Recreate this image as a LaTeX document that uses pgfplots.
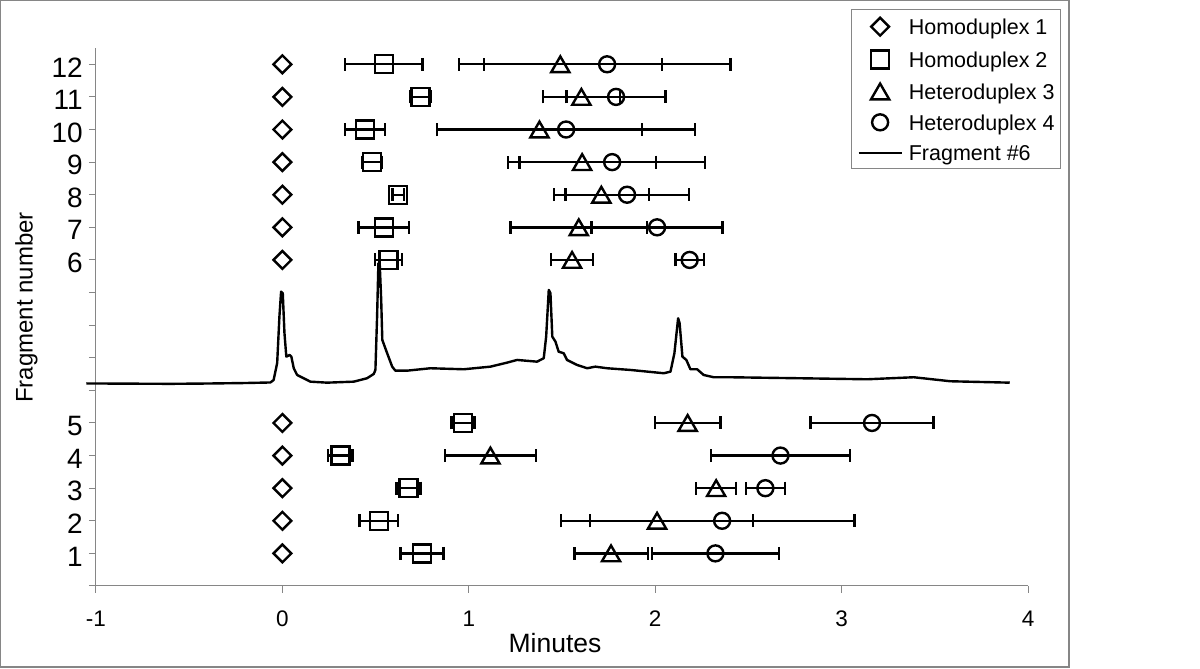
\documentclass[border=0pt]{standalone}
\usepackage{fontspec}
\setmainfont{Liberation Sans}
\usepackage{pgfplots}
\pgfplotsset{compat=1.18}
\usepackage{pgfplotstable}
\definecolor{axisgray}{RGB}{134,134,134}

\pgfplotsset{
  markleg/.style={legend image code/.code={\draw[##1] plot coordinates {(0pt,0pt)};}},
  lineleg/.style={legend image code/.code={\draw[##1] (-21.5pt,0pt) -- (21.5pt,0pt);}},
  ebar/.style={error bars/.cd, x dir=both, x explicit,
    error bar style={line width=2.4pt, black},
    error mark options={rotate=90, line width=2.4pt, mark size=6.5pt, black}},
}

\pgfplotstableread{
y x e
1 0 0
2 0 0
3 0 0
4 0 0
5 0 0
10 0 0
11 0 0
12 0 0
13 0 0
14 0 0
15 0 0
16 0 0
}\tabA

\pgfplotstableread{
y x e
16 0.544 0.207
15 0.740 0.057
14 0.442 0.107
13 0.481 0.053
12 0.621 0.030
11 0.544 0.136
10 0.570 0.072
5 0.969 0.062
4 0.311 0.065
3 0.676 0.064
2 0.517 0.103
1 0.749 0.116
}\tabB

\pgfplotstableread{
y x e
16 1.491 0.545
15 1.604 0.206
14 1.379 0.549
13 1.608 0.397
12 1.711 0.255
11 1.590 0.367
10 1.554 0.113
5 2.174 0.176
4 1.116 0.243
3 2.327 0.107
2 2.010 0.515
1 1.763 0.197
}\tabC

\pgfplotstableread{
y x e
16 1.742 0.662
15 1.790 0.266
14 1.522 0.692
13 1.769 0.498
12 1.849 0.331
11 2.010 0.352
10 2.185 0.076
5 3.163 0.330
4 2.672 0.373
3 2.591 0.105
2 2.359 0.710
1 2.323 0.340
}\tabD

\begin{document}
\begin{tikzpicture}
\useasboundingbox (0,0) rectangle (1200pt,669pt);
\draw[axisgray, line width=1.2pt] (0.6pt,2pt) rectangle (1069pt,668.4pt);
\begin{axis}[
  at={(96pt,83pt)}, anchor=south west,
  scale only axis, width=932pt, height=538pt,
  xmin=-1, xmax=4, ymin=0, ymax=16.5,
  clip=false,
  axis x line*=bottom, axis y line*=left,
  axis line style={color=axisgray, line width=1pt},
  tick style={color=axisgray, line width=1pt},
  tick align=outside, major tick length=7pt,
  xtick={-1,0,1,2,3,4}, xticklabels={-1,0,1,2,3,4},
  ytick={0,...,16}, yticklabels={,1,2,3,4,5,,,,,6,7,8,9,10,11,12},
  x tick label style={font=\fontsize{22.5}{26}\selectfont, anchor=base, yshift=-34pt},
  y tick label style={font=\fontsize{28}{32}\selectfont, anchor=east, inner sep=0pt, xshift=-6pt, yshift=-3pt},
  xlabel={Minutes},
  xlabel style={font=\fontsize{26.5}{30}\selectfont, at={(axis description cs:0.5,0)}, anchor=base, yshift=-67pt, xshift=-7pt},
  ylabel={Fragment number},
  ylabel style={font=\fontsize{24}{28}\selectfont, at={(axis description cs:-0.0679,0.5177)}, anchor=base, rotate=0},
  legend style={at={(rel axis cs:0.810,1.072)}, anchor=north west, draw=axisgray, line width=1pt,
    font=\fontsize{21.5}{24}\selectfont, inner xsep=6pt, inner ysep=8pt, row sep=15pt, column sep=6pt,
    nodes={inner sep=0pt, text height=15.5pt, text depth=0pt}},
  legend cell align=left,
]
\addplot[only marks, mark=square, mark size=6.3pt,
  mark options={rotate=45, fill=white, draw=black, line width=2.4pt},
  markleg]
  table[x=x, y=y] {\tabA};
\addlegendentry{Homoduplex 1}

\addplot[only marks, mark=square, mark size=9pt,
  mark options={fill=white, draw=black, line width=2.4pt},
  markleg, ebar]
  table[x=x, y=y, x error=e] {\tabB};
\addlegendentry{Homoduplex 2}

\addplot[only marks, mark=triangle, mark size=10.5pt,
  mark options={yshift=-2.6pt, fill=white, draw=black, line width=2.4pt},
  markleg, ebar]
  table[x=x, y=y, x error=e] {\tabC};
\addlegendentry{Heteroduplex 3}

\addplot[only marks, mark=o, mark size=8pt,
  mark options={fill=white, draw=black, line width=2.4pt},
  markleg, ebar]
  table[x=x, y=y, x error=e] {\tabD};
\addlegendentry{Heteroduplex 4}

\addplot[black, line width=2.4pt, line join=round, lineleg]
  coordinates {
(-1.052,6.212) (-0.80,6.205) (-0.60,6.20) (-0.40,6.21) (-0.20,6.225) (-0.064,6.242)
(-0.047,6.319) (-0.028,6.840) (-0.016,8.261) (-0.007,9.028) (0.002,8.979) (0.011,7.761)
(0.021,7.034) (0.039,7.086) (0.048,7.034) (0.061,6.678) (0.079,6.472) (0.114,6.371)
(0.150,6.267) (0.240,6.236) (0.383,6.267) (0.454,6.371) (0.490,6.503) (0.499,6.626)
(0.508,8.261) (0.515,9.899) (0.522,9.899) (0.530,8.773) (0.536,7.546) (0.562,7.138)
(0.589,6.727) (0.606,6.604) (0.669,6.604) (0.794,6.678) (0.973,6.647) (1.116,6.727)
(1.205,6.850) (1.259,6.933) (1.366,6.880) (1.402,6.985) (1.415,7.647) (1.429,9.080)
(1.438,8.979) (1.448,7.647) (1.465,7.494) (1.482,7.187) (1.509,7.138) (1.527,6.933)
(1.581,6.779) (1.635,6.678) (1.679,6.727) (1.742,6.678) (1.867,6.626) (2.046,6.525)
(2.082,6.574) (2.103,7.138) (2.123,8.212) (2.131,8.058) (2.146,7.034) (2.167,6.933)
(2.189,6.647) (2.225,6.647) (2.260,6.472) (2.314,6.402) (2.403,6.402) (2.779,6.371)
(3.137,6.340) (3.387,6.402) (3.584,6.279) (3.902,6.236)
  };
\addlegendentry{Fragment \#6}
\end{axis}
\end{tikzpicture}
\end{document}
